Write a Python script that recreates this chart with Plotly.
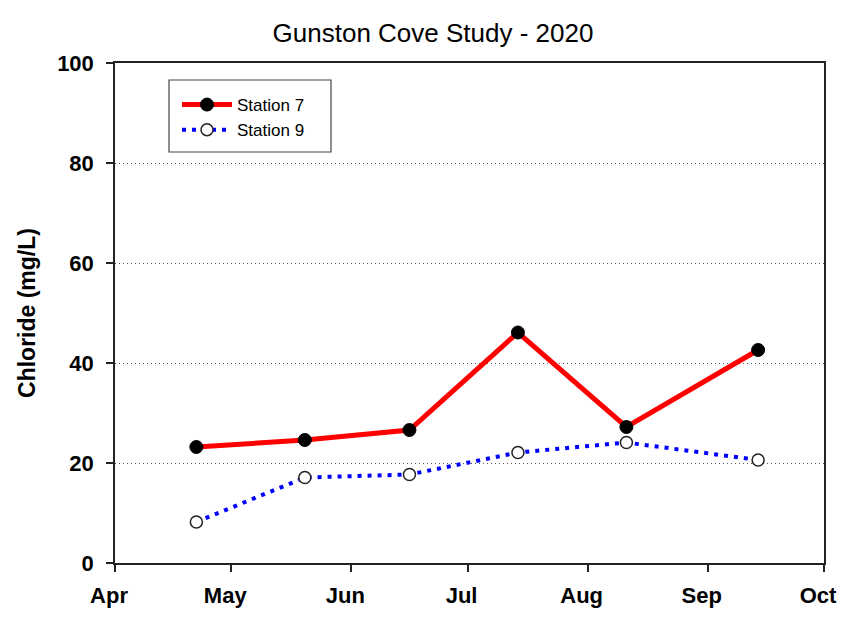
import plotly.graph_objects as go

# Sampling dates and chloride concentrations (mg/L)
sample_dates = ["2020-04-22", "2020-05-20", "2020-06-16", "2020-07-14", "2020-08-11", "2020-09-14"]
station7 = [23.2, 24.6, 26.6, 46.1, 27.2, 42.6]
station9 = [8.2, 17.1, 17.7, 22.1, 24.1, 20.6]

month_ticks = ["2020-04-01", "2020-05-01", "2020-06-01", "2020-07-01",
               "2020-08-01", "2020-09-01", "2020-10-01"]
month_labels = ["Apr", "May", "Jun", "Jul", "Aug", "Sep", "Oct"]
y_ticks = [0, 20, 40, 60, 80, 100]

FONT = "Liberation Sans, Arial, sans-serif"

fig = go.Figure()
fig.add_trace(go.Scatter(
    x=sample_dates, y=station7, name="Station 7", mode="lines+markers",
    line=dict(color="#ff0000", width=5),
    marker=dict(color="black", size=13, line=dict(color="black", width=1)),
))
fig.add_trace(go.Scatter(
    x=sample_dates, y=station9, name="Station 9", mode="lines+markers",
    line=dict(color="#0000ff", width=4, dash="4px,6px"),
    marker=dict(color="white", size=12, line=dict(color="#222222", width=1.5)),
))

# legend frame
fig.add_shape(type="rect", xref="paper", yref="paper",
              x0=(169 - 115) / 709, x1=(331 - 115) / 709,
              y0=(563 - 152) / 500, y1=(563 - 80) / 500,
              line=dict(color="#444444", width=1.2), fillcolor="white", layer="below")

fig.update_layout(
    width=843, height=625,
    margin=dict(l=115, r=19, t=63, b=62),
    paper_bgcolor="white", plot_bgcolor="white",
    font=dict(family=FONT, color="black"),
    title=dict(text="Gunston Cove Study - 2020", x=433 / 843, xanchor="center",
               y=1 - 33 / 625, yanchor="middle", font=dict(size=26, color="black")),
    showlegend=True,
    legend=dict(x=(177 - 115) / 709, y=(563 - 87) / 500, xanchor="left", yanchor="top",
                bgcolor="rgba(0,0,0,0)", borderwidth=0,
                font=dict(size=17, color="black"), tracegroupgap=0,
                itemwidth=50),
)

fig.update_xaxes(
    type="date", range=["2020-04-01", "2020-10-01"], automargin=False,
    tickmode="array", tickvals=month_ticks, ticktext=month_labels,
    ticks="outside", ticklen=7, tickwidth=1.5, tickcolor="#222222",
    showline=True, linecolor="#222222", linewidth=1.5, mirror=True,
    showgrid=False, zeroline=False, ticklabelstandoff=5,
    ticklabelshift=-6, ticklabeloverflow="allow",
    tickfont=dict(size=22, family=FONT, color="black", weight="bold"),
)
fig.update_yaxes(
    range=[0, 100], tickmode="array", tickvals=y_ticks, automargin=False,
    ticks="outside", ticklen=7, tickwidth=1.5, tickcolor="#222222",
    showline=True, linecolor="#222222", linewidth=1.5, mirror=True,
    showgrid=True, gridcolor="#555555", gridwidth=1, griddash="1px,3px",
    zeroline=False, ticklabelstandoff=8,
    tickfont=dict(size=22, family=FONT, color="black", weight="bold"),
    title=dict(text="Chloride (mg/L)", standoff=15,
               font=dict(size=23, family=FONT, color="black", weight="bold")),
)

fig.write_html("out.html")
